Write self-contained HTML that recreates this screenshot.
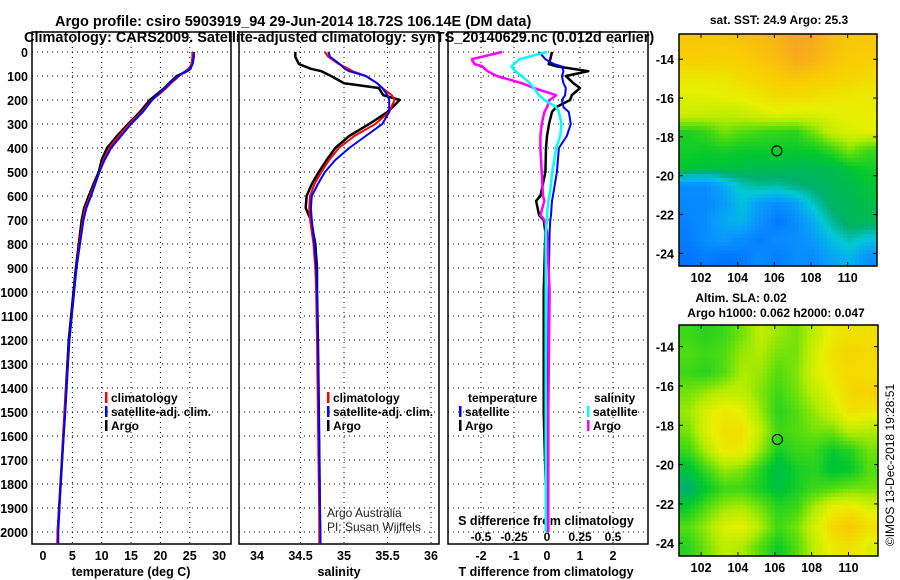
<!DOCTYPE html>
<html><head><meta charset="utf-8">
<style>
body{margin:0;background:#fff;}
svg{display:block;font-family:"Liberation Sans",sans-serif;font-weight:bold;}
</style></head>
<body>
<svg id="s" width="900" height="580" viewBox="0 0 900 580" xmlns="http://www.w3.org/2000/svg">
<text x="55" y="26" font-size="14.5">Argo profile: csiro 5903919_94 29-Jun-2014 18.72S 106.14E (DM data)</text>
<text x="24" y="42" font-size="14.5">Climatology: CARS2009. Satellite-adjusted climatology: synTS_20140629.nc (0.012d earlier)</text>
<g id="g"></g>
</svg>
<script>
// ---- data ----
const depths=[0,20,50,70,80,100,130,150,180,200,250,300,350,400,450,500,550,600,650,700,800,900,1000,1200,1500,1800,2000,2050];
const argoT=[25.5,25.5,25.4,25.1,24.5,22.8,21.5,20.7,19.2,18.2,16.5,14.5,12.6,10.9,10.0,9.5,8.6,7.8,7.0,6.6,6.1,5.6,5.2,4.4,3.7,3.0,2.5,2.5];
const climT=[25.5,25.5,25.3,24.8,24.2,23.2,21.8,21.0,19.6,18.5,16.8,14.7,12.9,11.3,10.3,9.6,8.8,8.0,7.2,6.8,6.2,5.7,5.3,4.5,3.7,3.0,2.5,2.4];
const satT=[25.7,25.7,25.5,25.0,24.4,23.0,21.6,20.8,19.4,18.6,17.0,15.0,13.3,11.6,10.5,9.6,8.9,8.2,7.4,6.9,6.3,5.7,5.3,4.5,3.8,3.0,2.6,2.6];
const argoS=[34.44,34.44,34.48,34.62,34.74,34.85,35.0,35.4,35.45,35.64,35.5,35.29,35.06,34.9,34.8,34.71,34.63,34.57,34.56,34.62,34.67,34.69,34.69,34.7,34.71,34.72,34.72,34.72];
const climS=[34.78,34.82,34.94,35.05,35.1,35.25,35.38,35.44,35.55,35.58,35.52,35.36,35.12,34.94,34.83,34.74,34.66,34.61,34.6,34.61,34.65,34.67,34.68,34.69,34.7,34.71,34.72,34.72];
const satS=[34.82,34.84,34.95,35.01,35.06,35.25,35.38,35.44,35.5,35.52,35.52,35.44,35.25,35.06,34.9,34.78,34.7,34.63,34.62,34.63,34.66,34.68,34.69,34.7,34.71,34.72,34.73,34.73];
const diffDepths=[0,30,50,60,80,100,130,150,180,200,230,250,300,350,400,500,600,620,680,700,750,1000,1500,2000];
const argoTd=[.15,.1,.05,.3,1.25,.57,.8,1.0,.75,.7,.27,.15,.06,0,-.03,-.05,-.2,-.33,-.24,-.1,-.05,-.1,-.1,0];
const satTd=[-.24,-.05,.2,.45,.5,.45,.5,.57,.55,.45,.5,.66,.72,.6,.36,.3,.18,.15,.12,.1,.08,.05,.02,0];
const argoSd=[-.34,-.57,-.55,-.49,-.45,-.38,-.19,-.1,.07,.02,0,-.02,-.04,-.05,-.05,-.04,-.03,-.02,-.05,-.02,0,.02,.01,.01];
const satSd=[0,-.21,-.25,-.27,-.24,-.19,-.13,-.1,-.06,-.02,.07,.09,.11,.1,.07,.04,.02,.01,0,0,-.01,-.01,-.01,-.01];
const depthTicks=[0,100,200,300,400,500,600,700,800,900,1000,1100,1200,1300,1400,1500,1600,1700,1800,1900,2000];
const tTicks=[0,5,10,15,20,25,30];
const sTicks=[34,34.5,35,35.5,36];
const tdTicks=[-2,-1,0,1,2];
const sdTicks=[-0.5,-0.25,0,0.25,0.5];
const sdTickLabels=["-0.5","-0.25","0","0.25","0.5"];
const lonTicks=[102,104,106,108,110];
const latTicks=[-14,-16,-18,-20,-22,-24];
const sstGrid=[
[.78,.78,.78,.79,.80,.82,.86,.84,.80,.78,.78],
[.76,.76,.75,.76,.78,.80,.84,.82,.79,.77,.76],
[.70,.70,.71,.73,.75,.77,.78,.77,.76,.74,.73],
[.67,.67,.68,.69,.71,.73,.73,.72,.71,.70,.69],
[.64,.63,.62,.63,.65,.67,.66,.66,.67,.68,.69],
[.47,.49,.55,.52,.50,.49,.48,.55,.63,.66,.67],
[.46,.45,.46,.45,.45,.45,.45,.45,.49,.56,.50],
[.44,.43,.43,.41,.40,.40,.39,.40,.40,.44,.46],
[.16,.16,.22,.30,.33,.32,.35,.37,.39,.40,.43],
[.15,.15,.19,.26,.19,.16,.20,.30,.38,.39,.41],
[.14,.16,.22,.24,.17,.12,.16,.23,.33,.39,.39],
[.13,.16,.19,.16,.13,.16,.16,.19,.26,.31,.27],
[.11,.13,.11,.12,.16,.13,.16,.16,.21,.24,.17]];
const slaGrid=[
[.50,.48,.50,.55,.62,.58,.55,.62,.70,.72,.72],
[.52,.50,.52,.58,.60,.55,.55,.65,.72,.75,.74],
[.50,.48,.52,.60,.58,.52,.56,.66,.70,.74,.72],
[.55,.58,.62,.62,.56,.50,.55,.62,.68,.74,.76],
[.58,.66,.70,.68,.58,.48,.52,.58,.64,.72,.70],
[.55,.66,.72,.72,.62,.50,.52,.55,.55,.62,.60],
[.50,.60,.70,.70,.58,.46,.50,.50,.45,.48,.55],
[.42,.50,.58,.56,.48,.40,.46,.48,.42,.44,.52],
[.36,.44,.50,.50,.46,.42,.46,.50,.52,.55,.55],
[.45,.52,.58,.60,.55,.48,.50,.60,.68,.70,.66],
[.52,.58,.66,.68,.60,.50,.55,.65,.74,.78,.72],
[.48,.55,.62,.60,.52,.45,.52,.62,.70,.72,.66]];
const argoLon=106.14, argoLat=-18.72;

// ---- helpers ----
const NS="http://www.w3.org/2000/svg";
const G=document.getElementById('g');
function el(tag,at,parent){const e=document.createElementNS(NS,tag);for(const k in at)e.setAttribute(k,at[k]);(parent||G).appendChild(e);return e;}
function txt(x,y,s,at){const e=el('text',Object.assign({x:x,y:y,'font-size':12.5},at||{}));e.textContent=s;return e;}
const yD=d=>52+d*0.24;
const xT=t=>43+t*5.87;
const xS=s=>257+(s-34)*87;
const xTd=v=>547+v*33;
const xSd=v=>547+v*132;
const Y0=32,Y1=544;

function frame(x0,x1,name){
  const r=el('rect',{x:x0,y:Y0,width:x1-x0,height:Y1-Y0,fill:'none',stroke:'#000','stroke-width':1.5});
  
  
  depthTicks.forEach(d=>{
    const l=el('line',{x1:x0,x2:x1,y1:yD(d),y2:yD(d),stroke:'#000','stroke-width':1,'stroke-dasharray':'1 4'});
    
    
  });
}
function vgrid(xs,fx){xs.forEach(v=>{
  const l=el('line',{x1:fx(v),x2:fx(v),y1:Y0,y2:Y1,stroke:'#000','stroke-width':1,'stroke-dasharray':'1 4'});
  
  
});}
function line(ds,vs,fx,col,name,w){
  const p=el('polyline',{points:ds.map((d,i)=>fx(vs[i]).toFixed(1)+','+yD(d).toFixed(1)).join(' '),fill:'none',stroke:col,'stroke-width':w||2,'stroke-linejoin':'round'});
  
  
}
function legend(x,y,col,label){
  const r=el('rect',{x:x,y:y-10,width:2.5,height:11,fill:col});
  
  
  const t=txt(x+6,y,label,{'font-size':12});
  
  
}

// ---- panel 1: temperature ----
frame(32,231,'temperature-panel');
vgrid([5,10,15,20,25],xT);
depthTicks.forEach(d=>{const t=txt(28,yD(d)+5,String(d),{'text-anchor':'end','font-size':12.5});
  });
tTicks.forEach(v=>{const t=txt(xT(v),560,String(v),{'text-anchor':'middle'});
  });
let at=txt(131,576,'temperature (deg C)',{'text-anchor':'middle'});

line(depths,argoT,xT,'#000','argo-temperature-line',2.5);
line(depths,climT,xT,'#f00','climatology-temperature-line');
line(depths,satT,xT,'#0000ff','satellite-temperature-line');
legend(105,402,'#f00','climatology');
legend(105,416,'#0000ff','satellite-adj. clim.');
legend(105,430,'#000','Argo');

// ---- panel 2: salinity ----
frame(239,439,'salinity-panel');
vgrid([34.5,35,35.5,36],xS);
sTicks.forEach(v=>{const t=txt(xS(v),560,String(v),{'text-anchor':'middle'});
  });
at=txt(339,576,'salinity',{'text-anchor':'middle'});

line(depths,argoS,xS,'#000','argo-salinity-line',2.5);
line(depths,climS,xS,'#f00','climatology-salinity-line');
line(depths,satS,xS,'#0000ff','satellite-salinity-line');
legend(327,402,'#f00','climatology');
legend(327,416,'#0000ff','satellite-adj. clim.');
legend(327,430,'#000','Argo');
at=txt(327,517,'Argo Australia',{'font-weight':'normal','font-size':12,fill:'#222'});

at=txt(327,531,'PI: Susan Wijffels',{'font-weight':'normal','font-size':12,fill:'#222'});


// ---- panel 3: differences ----
frame(448,648,'difference-panel');
vgrid([-2,-1,1,2],xTd);
tdTicks.forEach(v=>{const t=txt(xTd(v),560,String(v),{'text-anchor':'middle'});
  });
sdTicks.forEach((v,i)=>{const t=txt(xSd(v),541,sdTickLabels[i],{'text-anchor':'middle','font-size':12});
  });
at=txt(546,525,'S difference from climatology',{'text-anchor':'middle'});

at=txt(546,576,'T difference from climatology',{'text-anchor':'middle'});

line(diffDepths,argoTd,xTd,'#000','argo-t-diff-line',2.5);
line(diffDepths,satTd,xTd,'#0000ff','satellite-t-diff-line');
line(diffDepths,argoSd,xSd,'#ff00ff','argo-s-diff-line',2.5);
line(diffDepths,satSd,xSd,'#00ffff','satellite-s-diff-line',2.5);
at=txt(468,402,'temperature',{'font-size':12});

legend(459,416,'#0000ff','satellite');
legend(459,430,'#000','Argo');
at=txt(594,402,'salinity',{'font-size':12});

legend(587,416,'#00ffff','satellite');
legend(587,430,'#ff00ff','Argo');

// ---- maps ----
const cstops=[[0,[0,24,240]],[.1,[0,112,255]],[.18,[10,150,255]],[.28,[0,200,216]],[.36,[0,176,112]],[.44,[0,200,48]],[.52,[80,220,16]],[.6,[176,236,0]],[.68,[232,240,0]],[.76,[248,208,0]],[.85,[248,168,32]],[1,[240,120,20]]];
function cmap(v){for(let i=1;i<cstops.length;i++){if(v<=cstops[i][0]){const a=cstops[i-1],b=cstops[i];const f=(v-a[0])/(b[0]-a[0]);return 'rgb('+a[1].map((c,k)=>Math.round(c+(b[1][k]-c)*f)).join(',')+')';}}return 'rgb(240,120,20)';}
function drawMap(grid,x0,y0,x1,y1,latTop,latBot,step,name){
  const lonL=100.8,lonR=111.6;
  const fx=lon=>x0+(lon-lonL)/(lonR-lonL)*(x1-x0);
  const fy=lat=>y0+(latTop-lat)/(latTop-latBot)*(y1-y0);
  const rows=grid.length,cols=grid[0].length;
  const g=el('g',{});
  
  
  for(let y=y0;y<y1;y+=step){for(let x=x0;x<x1;x+=step){
    const u=(x+step/2-x0)/(x1-x0)*cols-0.5,v=(y+step/2-y0)/(y1-y0)*rows-0.5;
    const i0=Math.max(0,Math.min(rows-1,Math.floor(v))),i1=Math.min(rows-1,i0+1);
    const j0=Math.max(0,Math.min(cols-1,Math.floor(u))),j1=Math.min(cols-1,j0+1);
    const fu=Math.max(0,Math.min(1,u-j0)),fv=Math.max(0,Math.min(1,v-i0));
    const val=grid[i0][j0]*(1-fu)*(1-fv)+grid[i0][j1]*fu*(1-fv)+grid[i1][j0]*(1-fu)*fv+grid[i1][j1]*fu*fv;
    const c=el('rect',{x:x,y:y,width:Math.min(step,x1-x)+0.3,height:Math.min(step,y1-y)+0.3,fill:cmap(val)},g);
    
    
  }}
  const r=el('rect',{x:x0,y:y0,width:x1-x0,height:y1-y0,fill:'none',stroke:'#000','stroke-width':1.5});
  
  lonTicks.forEach(v=>{
    el('line',{x1:fx(v),x2:fx(v),y1:y1,y2:y1-4,stroke:'#000'});
    el('line',{x1:fx(v),x2:fx(v),y1:y0,y2:y0+4,stroke:'#000'});
    const t=txt(fx(v),y1+16,String(v),{'text-anchor':'middle'});
    
  });
  latTicks.forEach(v=>{
    el('line',{x1:x0,x2:x0+4,y1:fy(v),y2:fy(v),stroke:'#000'});
    el('line',{x1:x1,x2:x1-4,y1:fy(v),y2:fy(v),stroke:'#000'});
    const t=txt(x0-5,fy(v)+5,String(v),{'text-anchor':'end'});
    
  });
  const m=el('circle',{cx:fx(argoLon),cy:fy(argoLat),r:5,fill:'none',stroke:'#000','stroke-width':1.2});
  
}
drawMap(sstGrid,679,34,877,266,-12.7,-24.65,4,'sst-map');
drawMap(slaGrid,679,325,878,556,-12.9,-24.65,4,'sla-map');
at=txt(779,24,'sat. SST: 24.9 Argo: 25.3',{'text-anchor':'middle','font-size':12});

at=txt(741,302,'Altim. SLA: 0.02',{'text-anchor':'middle','font-size':12});

at=txt(776,317,'Argo h1000: 0.062 h2000: 0.047',{'text-anchor':'middle','font-size':12});

at=txt(0,0,'©IMOS 13-Dec-2018 19:28:51',{'text-anchor':'middle','font-size':12,'font-weight':'normal',transform:'translate(894,465) rotate(-90)'});

</script>
</body></html>
